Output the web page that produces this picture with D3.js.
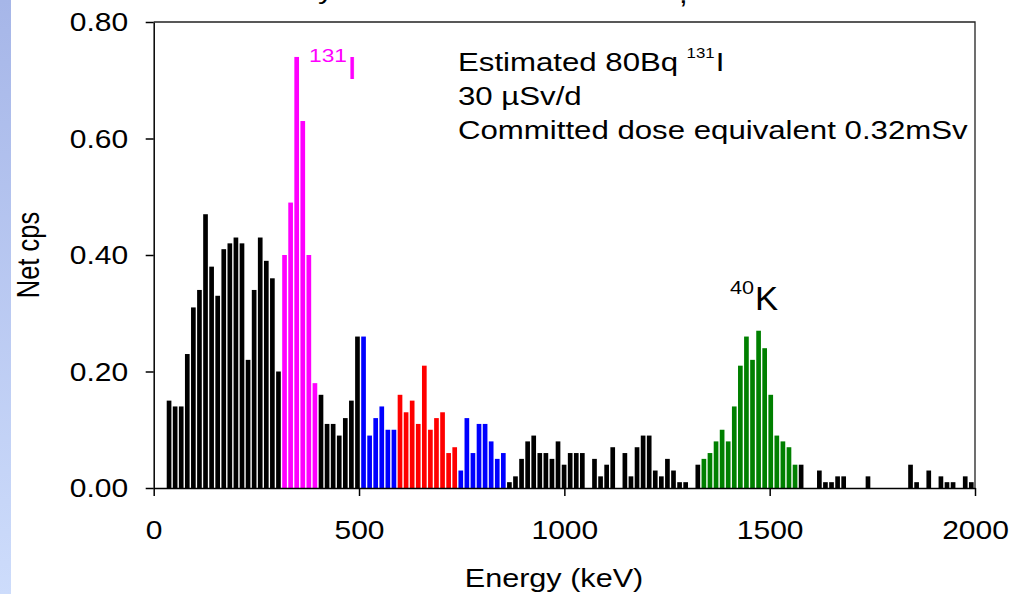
<!DOCTYPE html>
<html>
<head>
<meta charset="utf-8">
<script src="https://cdn.jsdelivr.net/npm/d3@7"></script>
<style>
    html, body { margin: 0; padding: 0; background: #fff; }
    svg { display: block; font-family: "Liberation Sans", Arial, sans-serif; }
</style>
</head>
<body>
<div id="chart"></div>
<script>
// channel calibration of the spectrum (keV)
const binStart = 30;
const binWidth = 14.8;

// net counts per second, one value per channel
const netCps = [
    0.15, 0.14, 0.14, 0.23, 0.31, 0.34, 0.47, 0.38, 0.33, 0.41,
    0.42, 0.43, 0.42, 0.22, 0.34, 0.43, 0.39, 0.36, 0.20, 0.40,
    0.49, 0.74, 0.63, 0.40, 0.18, 0.16, 0.11, 0.11, 0.09, 0.12,
    0.15, 0.26, 0.26, 0.09, 0.12, 0.14, 0.10, 0.10, 0.16, 0.13,
    0.15, 0.11, 0.21, 0.10, 0.12, 0.13, 0.06, 0.07, 0.03, 0.12,
    0.06, 0.11, 0.11, 0.08, 0.05, 0.06, 0.01, 0.02, 0.05, 0.08,
    0.09, 0.06, 0.06, 0.05, 0.08, 0.04, 0.06, 0.06, 0.06, 0,
    0.05, 0.02, 0.04, 0.07, 0, 0.06, 0.02, 0.07, 0.09, 0.09,
    0.03, 0.02, 0.05, 0.03, 0.01, 0.01, 0, 0.04, 0.05, 0.06,
    0.08, 0.10, 0.08, 0.14, 0.21, 0.26, 0.22, 0.27, 0.24, 0.16,
    0.09, 0.08, 0.07, 0.04, 0.04, 0, 0, 0.03, 0.01, 0.01,
    0.02, 0.02, 0, 0, 0, 0.02, 0, 0, 0, 0,
    0, 0, 0.04, 0.01, 0, 0.03, 0, 0.02, 0.01, 0.01,
    0, 0.02, 0.01
];

// channel ranges that are highlighted (first..last index)
const peakRegions = [
    { first: 19, last: 24, color: "#ff00ff" },
    { first: 32, last: 37, color: "#0000ff" },
    { first: 38, last: 47, color: "#ff0000" },
    { first: 48, last: 55, color: "#0000ff" },
    { first: 88, last: 103, color: "#008000" }
];

const xTicks = [0, 500, 1000, 1500, 2000];
const yTicks = [0, 0.2, 0.4, 0.6, 0.8];

const width = 1012, height = 594;
const plot = { left: 153.7, right: 975, top: 22, bottom: 488 };
const sx = 1.2; // the original slide is stretched sideways

const svg = d3.select("#chart").append("svg")
    .attr("width", width)
    .attr("height", height);

// slide background strip on the left
const grad = svg.append("defs").append("linearGradient")
    .attr("id", "strip").attr("x1", 0).attr("y1", 0).attr("x2", 0).attr("y2", 1);
grad.append("stop").attr("offset", "0%").attr("stop-color", "#a6b6e8");
grad.append("stop").attr("offset", "100%").attr("stop-color", "#cddcfb");
svg.append("rect").attr("x", 0).attr("y", 0).attr("width", 11).attr("height", height)
    .attr("fill", "url(#strip)");

const x = d3.scaleLinear().domain([0, 2000]).range([plot.left, plot.right]);
const y = d3.scaleLinear().domain([0, 0.8]).range([plot.bottom, plot.top]);

// helper for stretched text
function stretchText(px, py, size, scale) {
    return svg.append("text")
        .attr("transform", `translate(${px},${py}) scale(${scale},1)`)
        .attr("font-size", size)
        .attr("fill", "#000");
}

// bars
const bins = netCps.map((v, i) => {
    const region = peakRegions.find(r => i >= r.first && i <= r.last);
    return {
        lo: binStart + i * binWidth,
        hi: binStart + (i + 1) * binWidth,
        value: v,
        color: region ? region.color : "#000"
    };
});
const barGap = 0.7;
svg.append("g").attr("class", "bars")
    .selectAll("rect")
    .data(bins.filter(d => d.value > 0))
    .join("rect")
    .attr("x", d => x(d.lo) + barGap)
    .attr("width", d => x(d.hi) - x(d.lo) - 2 * barGap)
    .attr("y", d => y(d.value))
    .attr("height", d => y(0) - y(d.value))
    .attr("fill", d => d.color);

// frame top and right
svg.append("path")
    .attr("d", `M${plot.left},${plot.top}H${plot.right}V${plot.bottom}`)
    .attr("fill", "none").attr("stroke", "#222").attr("stroke-width", 1.3);

// axes
const yAxis = svg.append("g")
    .attr("transform", `translate(${plot.left},0)`)
    .call(d3.axisLeft(y).tickValues(yTicks).tickFormat(d3.format(".2f")).tickSize(8).tickSizeOuter(0))
    .attr("font-size", null).attr("font-family", null);
yAxis.selectAll(".tick text")
    .attr("x", -25.5 / sx)
    .attr("dy", "0.35em")
    .attr("transform", `scale(${sx},1)`)
    .attr("font-size", 25)
    .attr("fill", "#000");

const xAxis = svg.append("g")
    .attr("transform", `translate(0,${plot.bottom})`)
    .call(d3.axisBottom(x).tickValues(xTicks).tickFormat(d3.format("d")).tickSize(8).tickSizeOuter(0))
    .attr("font-size", null).attr("font-family", null);
xAxis.selectAll(".tick text")
    .attr("y", 51)
    .attr("dy", 0)
    .attr("transform", `scale(${sx},1)`)
    .attr("font-size", 25)
    .attr("fill", "#000");

svg.selectAll(".domain, .tick line").attr("stroke", "#000").attr("stroke-width", 1.5);

// axis titles
stretchText(554, 587, 25.5, sx).attr("text-anchor", "middle").text("Energy (keV)");
svg.append("text")
    .attr("transform", `translate(39,255) scale(${sx},1) rotate(-90)`)
    .attr("text-anchor", "middle")
    .attr("font-size", 25.5)
    .text("Net cps");

// notes
const note1 = stretchText(458, 71, 26, sx);
note1.append("tspan").text("Estimated 80Bq");
note1.append("tspan").attr("font-size", 14).attr("dx", 7).attr("dy", -13).text("131");
note1.append("tspan").attr("dx", 1).attr("dy", 13).text("I");
stretchText(458, 105, 26, sx).text("30 µSv/d");
stretchText(458, 139, 26, sx).text("Committed dose equivalent 0.32mSv");

// peak labels
stretchText(309, 62, 19, sx).attr("fill", "#ff00ff").text("131");
stretchText(347, 78.5, 31, sx).attr("fill", "#ff00ff").text("I");
stretchText(730, 293.5, 18, sx).text("40");
stretchText(755, 310, 33, 1.05).text("K");

// cut-off title above the plot
stretchText(318, -1, 26, sx).text("y");
stretchText(679, 3, 26, sx).text(",");
</script>
</body>
</html>
